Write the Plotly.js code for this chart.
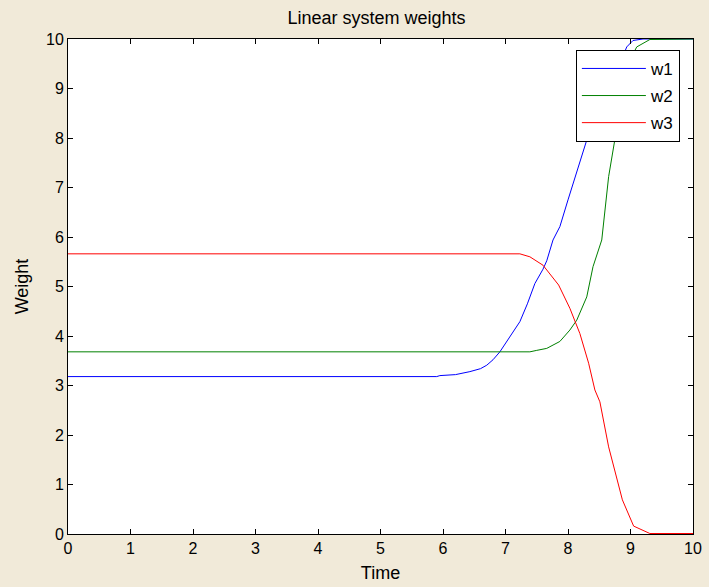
<!DOCTYPE html>
<html>
<head>
<meta charset="utf-8">
<script src="https://cdn.plot.ly/plotly-3.0.1.min.js"></script>
<style>
html,body{margin:0;padding:0;background:#f1ead9;}
#chart{width:709px;height:587px;}
</style>
</head>
<body>
<div id="chart"></div>
<script>
// Series data
const t1 = [0, 5.9, 5.95, 6.2, 6.43, 6.6, 6.7, 6.8, 6.91, 7.05, 7.23, 7.35, 7.47, 7.6, 7.66, 7.76, 7.87, 8.0, 8.19, 8.35, 8.5, 8.7, 8.94, 9.04, 9.2, 10];
const w1 = [3.18, 3.18, 3.2, 3.22, 3.28, 3.34, 3.41, 3.52, 3.68, 3.95, 4.29, 4.65, 5.06, 5.35, 5.52, 5.94, 6.21, 6.75, 7.49, 8.16, 8.5, 9.1, 9.84, 9.97, 10, 10];
const t2 = [0, 7.39, 7.5, 7.66, 7.87, 8.03, 8.14, 8.3, 8.4, 8.45, 8.54, 8.65, 8.78, 8.9, 9.0, 9.1, 9.31, 10];
const w2 = [3.68, 3.68, 3.71, 3.75, 3.89, 4.12, 4.32, 4.79, 5.4, 5.6, 5.94, 7.22, 8.16, 9.1, 9.6, 9.84, 9.99, 10];
const t3 = [0, 7.23, 7.39, 7.6, 7.85, 8.03, 8.19, 8.33, 8.43, 8.51, 8.65, 8.81, 8.87, 9.05, 9.31, 10];
const w3 = [5.66, 5.66, 5.6, 5.43, 5.03, 4.56, 4.05, 3.45, 2.91, 2.67, 1.76, 1.02, 0.69, 0.16, 0.01, 0.01];
const names = ['w1', 'w2', 'w3'];
const colors = ['#0000ff', '#008000', '#ff0000'];
const tickVals = [0,1,2,3,4,5,6,7,8,9,10];

const traces = [[t1,w1],[t2,w2],[t3,w3]].map((s,i)=>({
  x: s[0], y: s[1], type: 'scatter', mode: 'lines', name: names[i],
  legendgroup: names[i],
  line: {color: colors[i], width: 1}
}));

const axisCommon = {
  range: [0,10], tickvals: tickVals, ticks: 'inside', ticklen: 5, tickcolor: '#000',
  showline: true, linecolor: '#000', linewidth: 1, mirror: 'ticks',
  showgrid: false, zeroline: false,
  tickfont: {family: 'Liberation Sans, Arial', size: 16, color: '#000'}
};

const layout = {
  width: 709, height: 587,
  margin: {l: 68, r: 16, t: 39, b: 53},
  paper_bgcolor: '#f1ead9', plot_bgcolor: '#ffffff',
  font: {family: 'Liberation Sans, Arial', color: '#000'},
  title: {text: 'Linear system weights', font: {size: 18, color: '#000'}, x: 0.531, xanchor: 'center', y: 0.97, yanchor: 'middle'},
  xaxis: Object.assign({}, axisCommon, {title: {text: 'Time', font: {size: 18}, standoff: 10}}),
  yaxis: Object.assign({}, axisCommon, {title: {text: 'Weight', font: {size: 18}, standoff: 12}}),
  showlegend: true,
  legend: {x: 0.979, xanchor: 'right', y: 0.978, yanchor: 'top', bgcolor: '#ffffff',
           bordercolor: '#000', borderwidth: 1, font: {size: 17, color: '#000'}, itemwidth: 64,
           traceorder: 'grouped', tracegroupgap: 2}
};

Plotly.newPlot('chart', traces, layout, {staticPlot: true, displayModeBar: false});
</script>
</body>
</html>
